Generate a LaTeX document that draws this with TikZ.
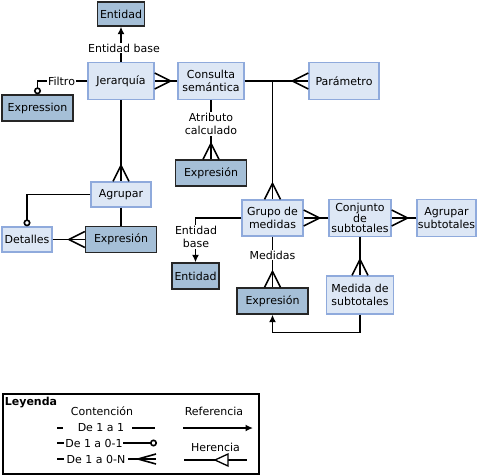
\documentclass[tikz,border=0pt]{standalone}
\usepackage{fontspec}
\setmainfont{DejaVu Sans}
\usetikzlibrary{arrows.meta,decorations.markings}
\definecolor{boxlight}{HTML}{DDE7F5}
\definecolor{edgelight}{HTML}{8FAADC}
\definecolor{boxdark}{HTML}{A5BFD7}
\tikzset{>={Latex[length=7.5pt,width=7pt]}}
\tikzset{
  light/.style={draw=edgelight, fill=boxlight, line width=1.3pt, align=center, inner sep=0pt},
  dark/.style={draw=black!85, fill=boxdark, line width=1.3pt, align=center, inner sep=0pt},
  lbl/.style={fill=white, align=center, inner sep=1pt},
  crow/.style={postaction={decorate, decoration={markings,
    mark=at position 1 with {\draw[line width=1.6pt] (-16pt,0pt) -- (0pt,8pt) (-16pt,0pt) -- (0pt,-8pt);}}}},
  crowsmall/.style={postaction={decorate, decoration={markings,
    mark=at position 1 with {\draw[line width=1.6pt] (-18pt,0pt) -- (0pt,5pt) (-18pt,0pt) -- (0pt,-5pt);}}}},
  ring/.style={-{Circle[open,length=7pt,width=7pt]}},
}

\begin{document}
\begin{tikzpicture}[x=1pt, y=-1pt, line width=1.6pt,
  every node/.style={font=\fontsize{11}{13}\selectfont}]
\useasboundingbox (0,0) rectangle (479,476);

% boxes
\node[dark, minimum width=47pt, minimum height=24pt] (entA) at (121,14) {Entidad};
\node[light, minimum width=66pt, minimum height=37pt] (jer) at (121,81) {Jerarquía};
\node[light, minimum width=66pt, minimum height=37pt] (cons) at (211,81) {Consulta\\semántica};
\node[light, minimum width=70pt, minimum height=37pt] (param) at (344,81) {Parámetro};
\node[dark, minimum width=71pt, minimum height=26pt] (exprF) at (37.5,108) {Expression};
\node[dark, minimum width=71pt, minimum height=26pt] (exprC) at (211,173) {Expresión};
\node[light, minimum width=60pt, minimum height=25pt] (agr) at (121,194.5) {Agrupar};
\node[light, minimum width=50pt, minimum height=25pt] (det) at (27,239.5) {Detalles};
\node[dark, minimum width=71pt, minimum height=26pt] (exprA) at (121,239.5) {Expresión};
\node[light, minimum width=61pt, minimum height=36pt] (grupo) at (272.5,218) {Grupo de\\medidas};
\node[light, minimum width=62pt, minimum height=37pt, font=\fontsize{11}{10.8}\selectfont] (conj) at (360,218) {Conjunto\\de\\subtotales};
\node[light, minimum width=59pt, minimum height=37pt] (agrsub) at (446.5,218) {Agrupar\\subtotales};
\node[dark, minimum width=47pt, minimum height=26pt] (entB) at (195.5,276) {Entidad};
\node[dark, minimum width=71pt, minimum height=26pt] (exprM) at (272.5,301) {Expresión};
\node[light, minimum width=67pt, minimum height=38pt] (medida) at (360,295) {Medida de\\subtotales};

% connectors
\draw[->] (jer.north) -- (entA.south);
\node[lbl] (lbase) at (124,48) {Entidad base};
\draw[ring] (jer.west) -| (exprF.north);
\node[lbl] (lfiltro) at (61.5,81) {Filtro};
\draw[crow] (cons.west) -- (jer.east);
\draw[crow] (cons.east) -- (param.west);
\draw[crow] (grupo.north |- cons.east) -- (grupo.north);
\draw[crow] (cons.south) -- (exprC.north);
\node[lbl] (latrib) at (211,124) {Atributo\\calculado};
\draw[crow] (jer.south) -- (agr.north);
\draw[ring] (agr.west) -| (det.north);
\draw (agr.south) -- (exprA.north);
\draw[crow] (det.east) -- (exprA.west);
\draw[->] (grupo.west) -| (entB.north);
\node[lbl] (lbaseB) at (196,237) {Entidad\\base};
\draw[crow] (grupo.south) -- (exprM.north);
\node[lbl] (lmed) at (272.5,255) {Medidas};
\draw[crow] (conj.west) -- (grupo.east);
\draw[crow] (agrsub.west) -- (conj.east);
\draw[crow] (conj.south) -- (medida.north);
\draw[->] (medida.south) -- ++(0,18) -| (exprM.south);

% legend
\draw (3,394) rectangle (259,474);
\node[font=\fontsize{11}{13}\selectfont\bfseries] (ley) at (31,403) {Leyenda};
\node (cont) at (102,411) {Contención};
\node (ref) at (214,411) {Referencia};
\draw (57,428) -- (63,428);
\node (c11) at (101,428) {De 1 a 1};
\draw (132,428) -- (155,428);
\draw (57,443) -- (64,443);
\node (c01) at (94,443) {De 1 a 0-1};
\draw[ring] (123,443) -- (157,443);
\draw (57,459) -- (64,459);
\node (c0n) at (96,459) {De 1 a 0-N};
\draw[crowsmall] (128,459) -- (156,459);
\draw[->] (183,428) -- (253,428);
\node (her) at (215.5,447) {Herencia};
\draw (184,460) -- (247,460);
\draw[fill=white, line width=1.3pt] (215,460) -- (228,454) -- (228,466) -- cycle;
\end{tikzpicture}
\end{document}
